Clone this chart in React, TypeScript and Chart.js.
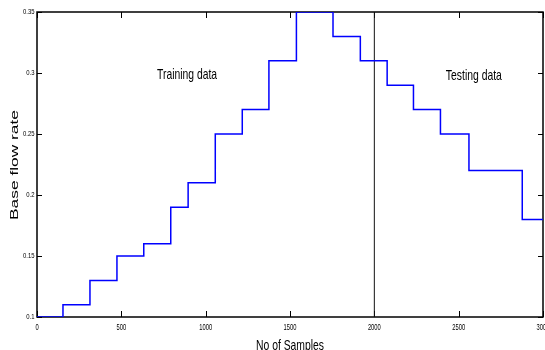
import React, { useEffect, useRef } from "react";
import { Chart, registerables } from "chart.js";

Chart.register(...registerables);

// Step change positions (sample index where each level starts) and the flow-rate level
const sampleStarts = [0, 154, 314, 474, 633, 793, 896, 1057, 1217, 1375, 1538, 1755, 1917, 2076, 2232, 2392, 2561, 2877, 3000];
const flowRates = [0.1, 0.11, 0.13, 0.15, 0.16, 0.19, 0.21, 0.25, 0.27, 0.31, 0.35, 0.33, 0.31, 0.29, 0.27, 0.25, 0.22, 0.18, 0.18];

const splitSample = 2000;

const xTickValues = [0, 500, 1000, 1500, 2000, 2500, 3000];
const xTickLabels = ["0", "500", "1000", "1500", "2000", "2500", "3000"];
const yTickValues = [0.1, 0.15, 0.2, 0.25, 0.3, 0.35];
const yTickLabels = ["0.1", "0.15", "0.2", "0.25", "0.3", "0.35"];

const xTitle = "No of Samples";
const yTitle = "Base flow rate";
const trainingLabel = "Training data";
const testingLabel = "Testing data";

const SANS = "'Liberation Sans', Arial, sans-serif";

function drawScaled(ctx: any, text: string, x: number, y: number, size: number, sx: number, align: string, baseline: string) {
  ctx.save();
  ctx.font = `${size}px ${SANS}`;
  ctx.textAlign = align;
  ctx.textBaseline = baseline;
  ctx.translate(x, y);
  ctx.scale(sx, 1);
  ctx.fillText(text, 0, 0);
  ctx.restore();
}

function drawFit(ctx: any, text: string, x: number, y: number, size: number, targetW: number, align: string, baseline: string) {
  ctx.save();
  ctx.font = `${size}px ${SANS}`;
  const w = ctx.measureText(text).width;
  ctx.restore();
  drawScaled(ctx, text, x, y, size, targetW / w, align, baseline);
}

const framePlugin = {
  id: "matlabFrame",
  beforeDatasetsDraw(chart: any) {
    const { ctx, chartArea } = chart;
    const { left, right, top, bottom } = chartArea;
    const xs = chart.scales.x;
    const ys = chart.scales.y;
    ctx.save();
    ctx.strokeStyle = "#000";
    ctx.lineWidth = 1.5;
    ctx.strokeRect(left, top, right - left, bottom - top);
    ctx.lineWidth = 1;
    const tl = 6;
    ctx.beginPath();
    for (const v of xTickValues) {
      const px = Math.round(xs.getPixelForValue(v)) + 0.5;
      ctx.moveTo(px, bottom);
      ctx.lineTo(px, bottom - tl);
      ctx.moveTo(px, top);
      ctx.lineTo(px, top + tl);
    }
    for (const v of yTickValues) {
      const py = Math.round(ys.getPixelForValue(v)) + 0.5;
      ctx.moveTo(left, py);
      ctx.lineTo(left + 5, py);
      ctx.moveTo(right, py);
      ctx.lineTo(right - 5, py);
    }
    ctx.stroke();
    ctx.restore();
  },
  afterDraw(chart: any) {
    const { ctx, chartArea } = chart;
    const xs = chart.scales.x;
    const ys = chart.scales.y;
    ctx.save();
    ctx.fillStyle = "#000";
    // tick labels
    xTickValues.forEach((v, i) => {
      drawScaled(ctx, xTickLabels[i], xs.getPixelForValue(v), chartArea.bottom + 10.5, 8.5, 0.68, "center", "middle");
    });
    yTickValues.forEach((v, i) => {
      drawScaled(ctx, yTickLabels[i], chartArea.left - 2.5, ys.getPixelForValue(v), 8, 0.74, "right", "middle");
    });
    // annotations
    drawFit(ctx, trainingLabel, xs.getPixelForValue(890), 79, 15, 60, "center", "alphabetic");
    drawFit(ctx, testingLabel, xs.getPixelForValue(2590), 80, 15, 56, "center", "alphabetic");
    // axis titles
    drawFit(ctx, xTitle, (chartArea.left + chartArea.right) / 2, 350, 15, 68, "center", "alphabetic");
    ctx.save();
    ctx.translate(17.5, 165);
    ctx.rotate(-Math.PI / 2);
    drawFit(ctx, yTitle, 0, 0, 11.5, 110, "center", "alphabetic");
    ctx.restore();
    ctx.restore();
  },
};

export default function App() {
  const ref = useRef<HTMLCanvasElement | null>(null);
  useEffect(() => {
    if (!ref.current) return;
    const points = sampleStarts.map((x, i) => ({ x, y: flowRates[i] }));
    const chart = new Chart(ref.current, {
      type: "line",
      data: {
        datasets: [
          {
            data: points,
            borderColor: "#0000ff",
            borderWidth: 1.5,
            pointRadius: 0,
            stepped: "before",
            fill: false,
          },
          {
            data: [
              { x: splitSample, y: yTickValues[0] },
              { x: splitSample, y: yTickValues[yTickValues.length - 1] },
            ],
            borderColor: "#111",
            borderWidth: 1,
            pointRadius: 0,
            fill: false,
          },
        ],
      },
      options: {
        responsive: false,
        animation: false,
        layout: { padding: { top: 12, right: 2, left: 0, bottom: 0 } },
        plugins: { legend: { display: false }, tooltip: { enabled: false } },
        scales: {
          x: {
            type: "linear",
            min: xTickValues[0],
            max: xTickValues[xTickValues.length - 1],
            grid: { display: false, drawTicks: false, tickLength: 0 },
            border: { display: false },
            ticks: { display: false, stepSize: 500 },
            afterFit: (s: any) => {
              s.height = 33;
              s.paddingLeft = 0;
              s.paddingRight = 0;
            },
          },
          y: {
            type: "linear",
            min: yTickValues[0],
            max: yTickValues[yTickValues.length - 1],
            grid: { display: false, drawTicks: false, tickLength: 0 },
            border: { display: false },
            ticks: { display: false, stepSize: 0.05 },
            afterFit: (s: any) => {
              s.width = 37;
              s.paddingTop = 0;
              s.paddingBottom = 0;
            },
          },
        },
      },
      plugins: [framePlugin],
    });
    return () => chart.destroy();
  }, []);
  return (
    <div style={{ position: "fixed", left: 0, top: 0, width: 545, height: 350, background: "#fff" }}>
      <canvas ref={ref} width={545} height={350} />
    </div>
  );
}
